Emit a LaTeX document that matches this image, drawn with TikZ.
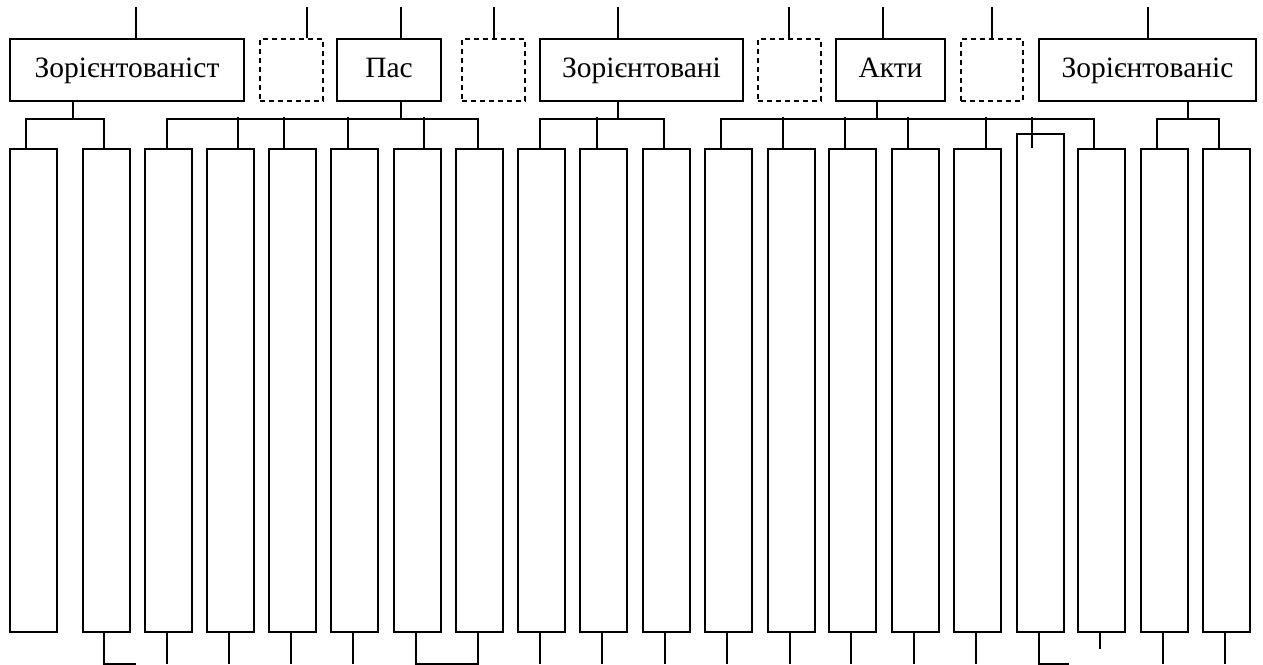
\documentclass[tikz,border=0pt]{standalone}
\usepackage{fontspec}
\setmainfont{Liberation Serif}
\begin{document}
\begin{tikzpicture}[x=1pt,y=-1pt,line width=2pt,
  box/.style={draw,rectangle,inner sep=0pt,anchor=north west,minimum height=62pt,text height=22pt,text depth=7pt,font=\fontsize{29.5}{31}\selectfont},
  dbox/.style={box,dash pattern=on 5pt off 4pt},
  tall/.style={draw,rectangle,inner sep=0pt,anchor=north west,minimum width=47pt,minimum height=483pt}]
\useasboundingbox (0,0) rectangle (1263,664);
% top boxes
\node[box,minimum width=234pt] (k1) at (9,38) {Зорієнтованіст};
\node[dbox,minimum width=63pt] (d1) at (259,38) {};
\node[box,minimum width=104pt] (k2) at (336,38) {Пас};
\node[dbox,minimum width=63pt] (d2) at (461,38) {};
\node[box,minimum width=203pt] (k3) at (539,38) {Зорієнтовані};
\node[dbox,minimum width=63pt] (d3) at (757,38) {};
\node[box,minimum width=109pt] (k4) at (835,38) {Акти};
\node[dbox,minimum width=62pt] (d4) at (960,38) {};
\node[box,minimum width=217pt] (k5) at (1038,38) {Зорієнтованіс};
% tall boxes
\foreach \i/\x in {1/9,2/82,3/144,4/206,5/268,6/330,7/393,8/455,9/517,10/579,11/642,12/704,13/767,14/828,15/891,16/953,18/1077,19/1140,20/1202}
  \node[tall] (t\i) at (\x,148) {};
\node[tall,minimum height=498pt] (t17) at (1016,133) {};
% lines above top boxes
\draw ([xshift=9pt]k1.north) -- ++(0,-31);
\draw ([xshift=15.5pt]d1.north) -- ++(0,-31);
\draw ([xshift=12pt]k2.north) -- ++(0,-31);
\draw ([xshift=0.5pt]d2.north) -- ++(0,-31);
\draw ([xshift=-23.5pt]k3.north) -- ++(0,-31);
\draw ([xshift=-0.5pt]d3.north) -- ++(0,-31);
\draw ([xshift=-7.5pt]k4.north) -- ++(0,-31);
\draw (d4.north) -- ++(0,-31);
\draw ([xshift=0.5pt]k5.north) -- ++(0,-31);
% group 1
\draw ([xshift=-54pt]k1.south) -- ++(0,17) coordinate (j1);
\draw ([xshift=-7.5pt]t1.north) |- (j1) -| ([xshift=-2.5pt]t2.north);
% group 2
\draw ([xshift=12pt]k2.south) -- ++(0,17) coordinate (j2);
\draw ([xshift=-1.5pt]t3.north) |- (j2) -| ([xshift=-1.5pt]t8.north);
\draw ([xshift=7.5pt]t4.north) -- ++(0,-31);
\draw ([xshift=-8.5pt]t5.north) -- ++(0,-31);
\draw ([xshift=-6.5pt]t6.north) -- ++(0,-31);
\draw ([xshift=6.5pt]t7.north) -- ++(0,-31);
% group 3
\draw ([xshift=-23.5pt]k3.south) -- ++(0,17) coordinate (j3);
\draw ([xshift=-1.5pt]t9.north) |- (j3) -| ([xshift=-2.5pt]t11.north);
\draw ([xshift=-6.5pt]t10.north) -- ++(0,-31);
% group 4
\draw ([xshift=-13.5pt]k4.south) -- ++(0,17) coordinate (j4);
\draw ([xshift=-7.5pt]t12.north) |- (j4) -| ([xshift=-7.5pt]t18.north);
\draw ([xshift=-8.5pt]t13.north) -- ++(0,-31);
\draw ([xshift=-7.5pt]t14.north) -- ++(0,-31);
\draw ([xshift=-7.5pt]t15.north) -- ++(0,-31);
\draw ([xshift=8.5pt]t16.north) -- ++(0,-31);
\draw ([xshift=-8.5pt]t17.north) ++(0,15) -- ++(0,-31);
% group 5
\draw ([xshift=40.5pt]k5.south) -- ++(0,17) coordinate (j5);
\draw ([xshift=-7.5pt]t19.north) |- (j5) -| ([xshift=-7.5pt]t20.north);
% bottom stems
\draw ([xshift=-2.5pt]t2.south) -- ++(0,31) -- ++(32,0) coordinate (e2);
\foreach \i in {3,4,5,6,9,10,11,12,13,14,15,16,19,20}
  \draw ([xshift=-1.5pt]t\i.south) -- ++(0,31);
\draw ([xshift=-1.5pt]t7.south) -- ++(0,31) -| ([xshift=-1.5pt]t8.south);
\draw ([xshift=-1.5pt]t17.south) -- ++(0,31) -- ++(30,0) coordinate (e17);
\draw ([xshift=-1.5pt]t18.south) -- ++(0,16) coordinate (e18);
\end{tikzpicture}
\end{document}
